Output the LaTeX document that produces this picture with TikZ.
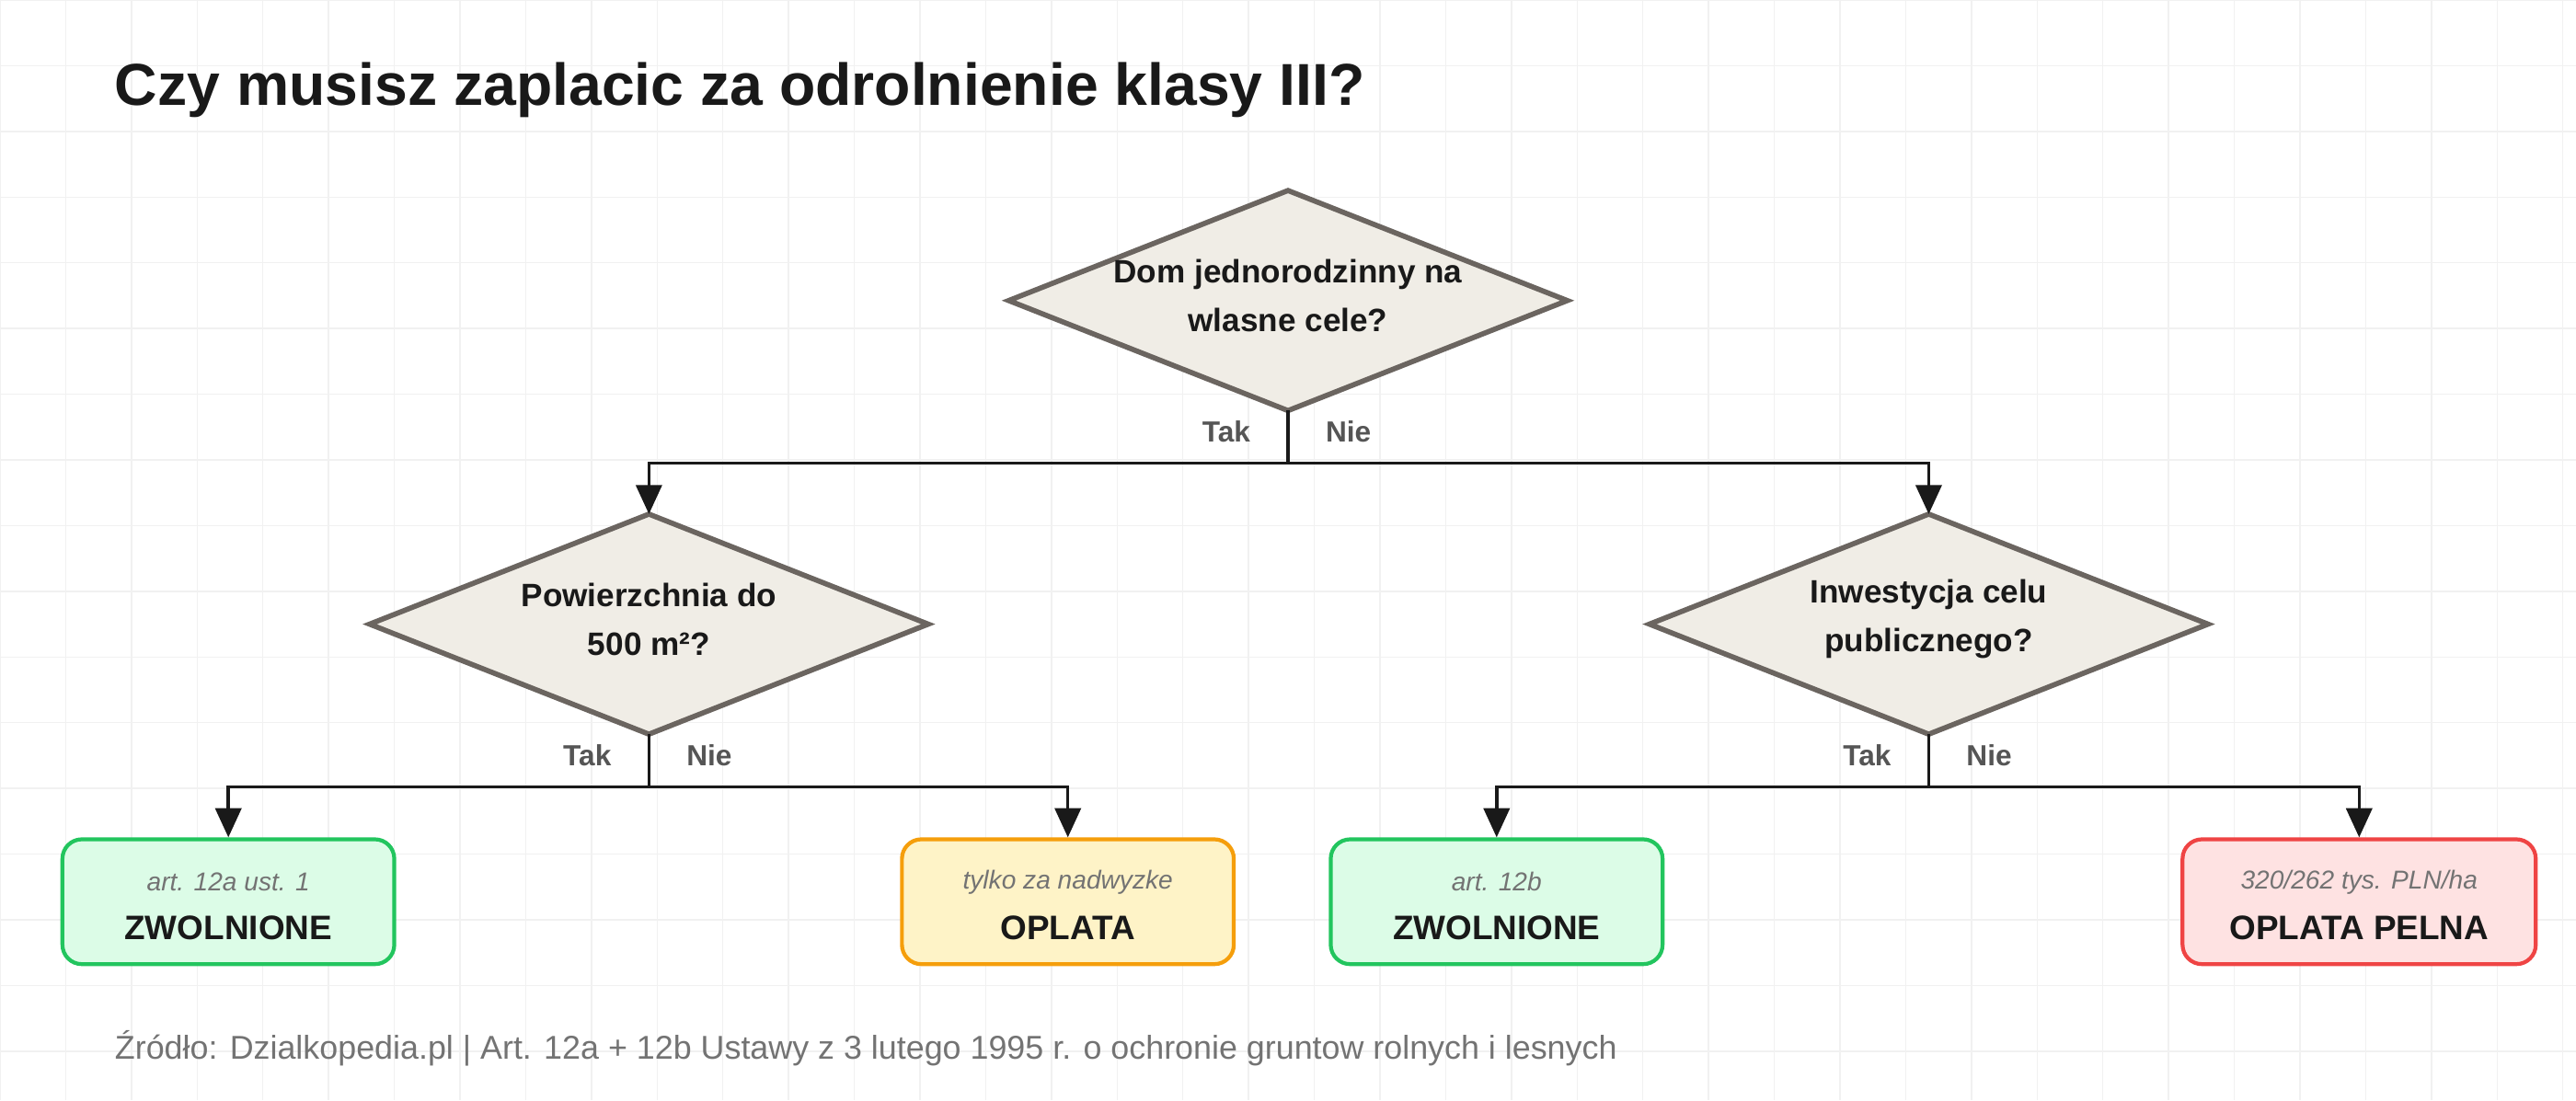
\documentclass[tikz,border=0pt]{standalone}
\usepackage{fontspec}
\setmainfont{Liberation Sans}
\usetikzlibrary{arrows.meta}
\definecolor{dfill}{HTML}{F0EDE6}
\definecolor{dline}{HTML}{6B6560}
\definecolor{gfill}{HTML}{DCFCE7}\definecolor{gline}{HTML}{22C55E}
\definecolor{yfill}{HTML}{FEF3C7}\definecolor{yline}{HTML}{F59E0B}
\definecolor{rfill}{HTML}{FEE2E2}\definecolor{rline}{HTML}{EF4444}
\definecolor{lbl}{HTML}{555555}
\definecolor{grid}{HTML}{F1F1F1}
\begin{document}
\begin{tikzpicture}[x=0.01786cm,y=-0.01786cm,
 dia/.style={fill=dfill,draw=dline,line width=1.6pt,line join=miter},
 dtext/.style={font=\fontsize{10}{15}\selectfont\bfseries,align=center,text=black!90},
 conn/.style={draw=black!90,line width=1pt},
 arr/.style={conn,-{Triangle[length=9pt,width=8pt]}},
 yes/.style={font=\fontsize{9}{10}\selectfont\bfseries,text=lbl,anchor=east},
 no/.style={font=\fontsize{9}{10}\selectfont\bfseries,text=lbl,anchor=west},
 res/.style={rounded corners=6pt,line width=1.2pt,minimum width=202*0.01786cm,minimum height=76*0.01786cm},
 rtitle/.style={font=\fontsize{10.5}{12}\selectfont\bfseries,text=black!90},
 rsub/.style={font=\fontsize{8}{10}\selectfont\itshape,text=black!55}]
\fill[white] (0,0) rectangle (1568,670);
\useasboundingbox (0,0) rectangle (1568,670);
\foreach \i in {0,40,...,1560} \draw[grid,line width=0.4pt] (\i,0)--(\i,670);
\foreach \j in {0,40,...,660} \draw[grid,line width=0.4pt] (0,\j)--(1568,\j);
\node[anchor=base west,font=\fontsize{18.3}{20}\selectfont\bfseries,text=black!90] (title) at (63,64) {Czy musisz zaplacic za odrolnienie klasy III?};
% diamonds
\foreach \n/\cx/\cy in {a/784/183,b/395/380,c/1174/380}{
 \draw[dia] (\cx-170,\cy)--(\cx,\cy-67)--(\cx+170,\cy)--(\cx,\cy+67)--cycle;
 \coordinate (\n top) at (\cx,\cy-67);
 \coordinate (\n bot) at (\cx,\cy+67);
}
\node[dtext] (da) at (784,180) {Dom jednorodzinny na\\wlasne cele?};
\node[dtext] (db) at (395,377) {Powierzchnia do\\500 m²?};
\node[dtext] (dc) at (1174,377) {Inwestycja celu\\publicznego?};
% results
\node[res,fill=gfill,draw=gline] (r1) at (139,549) {};
\node[res,fill=yfill,draw=yline] (r2) at (650,549) {};
\node[res,fill=gfill,draw=gline] (r3) at (911,549) {};
\node[res,fill=rfill,draw=rline,minimum width=215*0.01786cm] (r4) at (1436,549) {};
\foreach \r/\t/\s in {r1/ZWOLNIONE/art. 12a ust. 1,r2/OPLATA/tylko za nadwyzke,r3/ZWOLNIONE/art. 12b,r4/OPLATA PELNA/320\slash 262 tys. PLN\slash ha}{
 \node[rtitle] (\r t) at ([yshift=-16*0.01786cm]\r.center) {\t};
 \node[rsub] (\r s) at ([yshift=12*0.01786cm]\r.center) {\s};
}
% connectors
\coordinate (ja) at (784,282); \coordinate (jb) at (395,479); \coordinate (jc) at (1174,479);
\draw[conn] (abot)--(ja);
\draw[arr] (ja)-|(btop);
\draw[arr] (ja)-|(ctop);
\draw[conn] (bbot)--(jb);
\draw[arr] (jb)-|(r1.north);
\draw[arr] (jb)-|(r2.north);
\draw[conn] (cbot)--(jc);
\draw[arr] (jc)-|(r3.north);
\draw[arr] (jc)-|(r4.north);
\node[yes] (ya) at (768,263) {Tak}; \node[no] (na) at (800,263) {Nie};
\node[yes] (yb) at (379,460) {Tak}; \node[no] (nb) at (411,460) {Nie};
\node[yes] (yc) at (1158,460) {Tak}; \node[no] (nc) at (1190,460) {Nie};
\node[anchor=base west,font=\fontsize{10.2}{12}\selectfont,text=black!55] (src) at (63,645) {Źródło: Dzialkopedia.pl | Art. 12a + 12b Ustawy z 3 lutego 1995 r. o ochronie gruntow rolnych i lesnych};
\end{tikzpicture}
\end{document}
